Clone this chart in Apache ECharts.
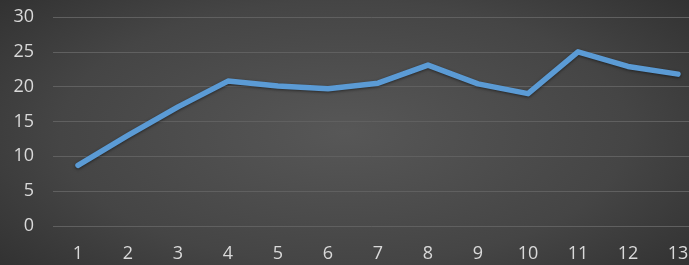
<!DOCTYPE html>
<html>
<head>
<meta charset="utf-8">
<script src="https://cdn.jsdelivr.net/npm/echarts@6/dist/echarts.min.js"></script>
<style>
html, body { margin: 0; padding: 0; }
#chart {
    width: 689px;
    height: 265px;
    background: radial-gradient(ellipse 75% 90% at 50% 50%, #575757 0%, #454545 55%, #2a2a2a 100%);
}
</style>
</head>
<body>
<div id="chart"></div>
<script>
const categories = ['1', '2', '3', '4', '5', '6', '7', '8', '9', '10', '11', '12', '13']
const values = [8.7, 13.0, 17.1, 20.8, 20.1, 19.7, 20.5, 23.1, 20.4, 19.0, 25.0, 22.9, 21.8]
const yTicks = { min: 0, max: 30, interval: 5 }

const chart = echarts.init(document.getElementById('chart'))
chart.setOption({
    backgroundColor: 'transparent',
    animation: false,
    grid: {
        left: 53,
        top: 17,
        width: 650,
        height: 209,
        outerBoundsMode: 'none'
    },
    xAxis: {
        type: 'category',
        data: categories,
        boundaryGap: true,
        axisLine: { show: false },
        axisTick: { show: false },
        axisLabel: {
            color: '#d9d9d9',
            fontFamily: 'Open Sans',
            fontSize: 18,
            margin: 19
        }
    },
    yAxis: {
        type: 'value',
        min: yTicks.min,
        max: yTicks.max,
        interval: yTicks.interval,
        axisLine: { show: false },
        axisTick: { show: false },
        axisLabel: {
            color: '#d9d9d9',
            fontFamily: 'Open Sans',
            fontSize: 18,
            margin: 19
        },
        splitLine: {
            lineStyle: { color: '#606060', width: 1 }
        }
    },
    series: [{
        type: 'line',
        data: values,
        showSymbol: false,
        lineStyle: {
            color: '#5b9bd5',
            width: 5.5,
            cap: 'round',
            join: 'round',
            shadowColor: 'rgba(0,0,0,0.5)',
            shadowBlur: 3,
            shadowOffsetY: 1
        }
    }]
})
</script>
</body>
</html>
